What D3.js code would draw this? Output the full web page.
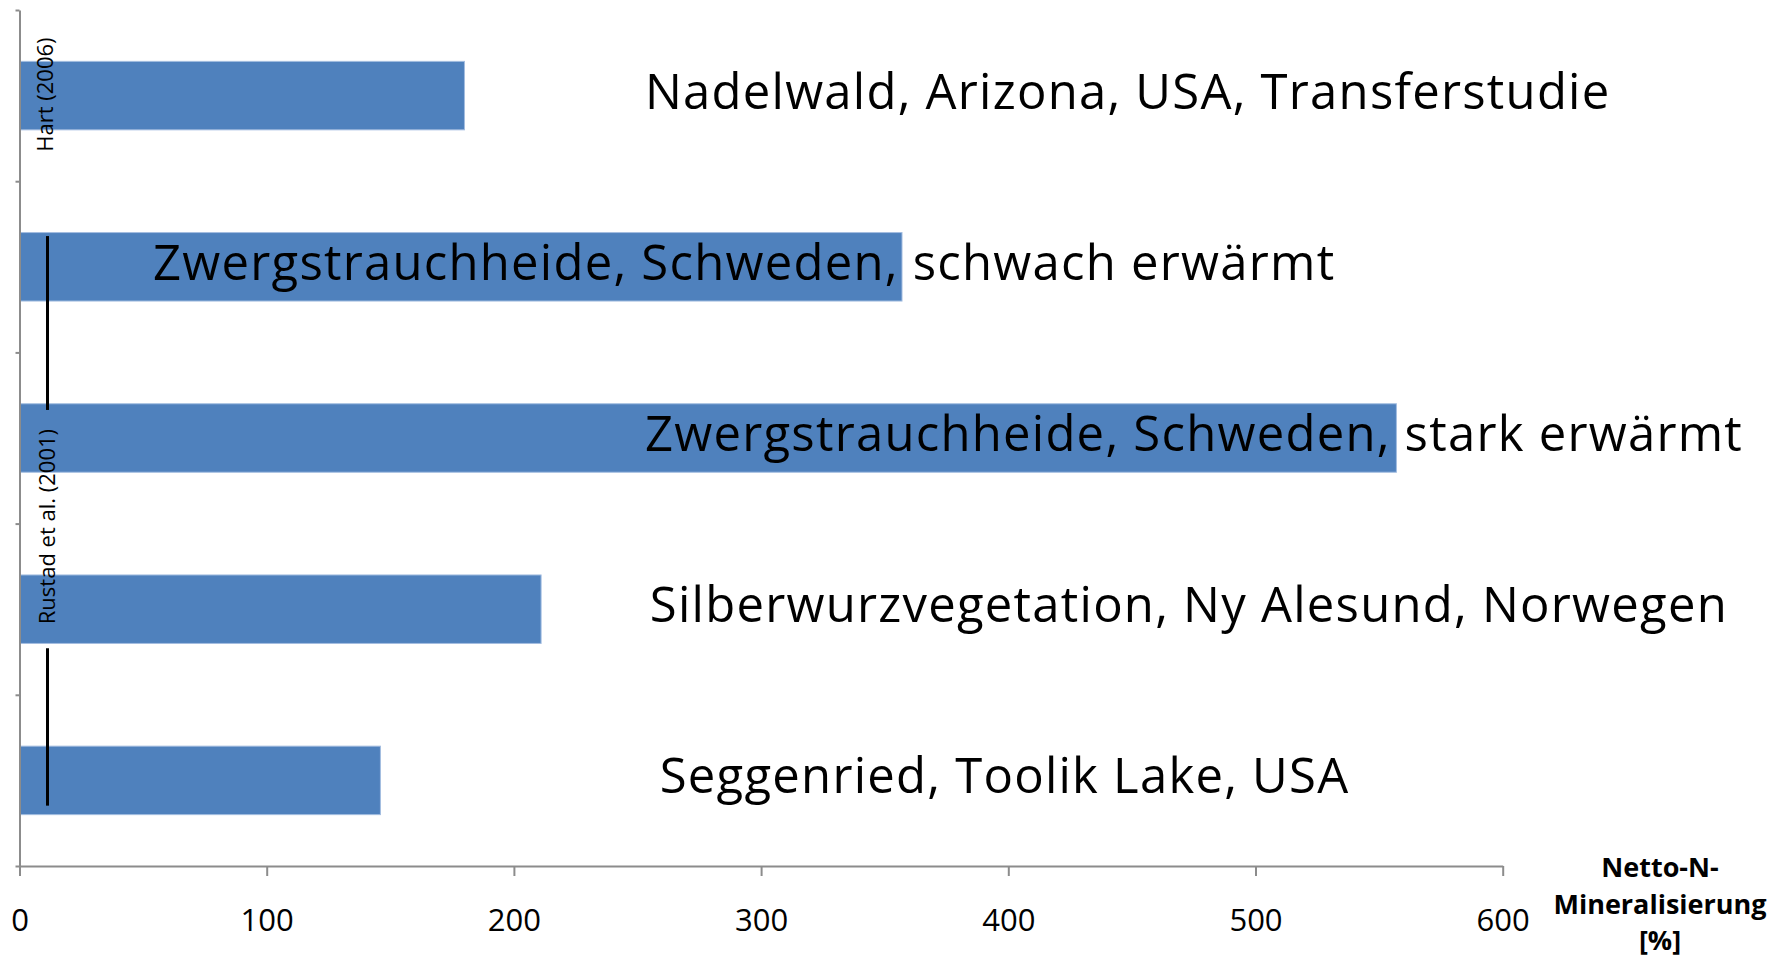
<!DOCTYPE html>
<html>
<head>
<meta charset="utf-8">
<script src="https://cdn.jsdelivr.net/npm/d3@7"></script>
<style>
    body { margin: 0; background: #fff; }
    text { font-family: "Open Sans", "Noto Sans", sans-serif; }
</style>
</head>
<body>
<div class="canvas"></div>
<script>
// data (top to bottom)
const categories = [
    'Nadelwald, Arizona, USA, Transferstudie',
    'Zwergstrauchheide, Schweden, schwach erwärmt',
    'Zwergstrauchheide, Schweden, stark erwärmt',
    'Silberwurzvegetation, Ny Alesund, Norwegen',
    'Seggenried, Toolik Lake, USA'
];
const values = [180, 357, 557, 211, 146];
// where each category label starts, in axis units
const labelAt = [253, 54, 253, 255, 259];
const xTicks = [0, 100, 200, 300, 400, 500, 600];
const axisTitle = ['Netto-N-', 'Mineralisierung', '[%]'];
const sources = ['Hart (2006)', 'Rustad et al. (2001)'];

const width = 1769;
const height = 957;

const svg = d3.select('.canvas')
    .append('svg')
    .attr('width', width)
    .attr('height', height);

// plot area
const plot = { left: 19.5, right: 1502.7, top: 10, bottom: 866 };

// scales
const x = d3.scaleLinear()
    .domain([0, 600])
    .range([plot.left, plot.right]);

const y = d3.scaleBand()
    .domain(categories)
    .range([plot.top, plot.bottom])
    .paddingInner(0.6)
    .paddingOuter(0.3);

// y boundary ticks live on a plain index scale
const yIdx = d3.scaleLinear()
    .domain([0, categories.length])
    .range([plot.top, plot.bottom]);

// bars
svg.append('g')
    .selectAll('rect')
    .data(categories)
    .enter()
    .append('rect')
    .attr('x', x(0))
    .attr('y', d => y(d))
    .attr('width', (d, i) => x(values[i]) - x(0))
    .attr('height', y.bandwidth())
    .attr('fill', '#4f81bd')
    .attr('stroke', '#a3bde0')
    .attr('stroke-width', 1);

// axes
const xAxisGroup = svg.append('g')
    .attr('transform', `translate(0, ${plot.bottom})`)
    .call(d3.axisBottom(x).tickValues(xTicks).tickSize(10).tickSizeOuter(0));

const yAxisGroup = svg.append('g')
    .attr('transform', `translate(${plot.left}, 0)`)
    .call(d3.axisLeft(yIdx).ticks(categories.length).tickSize(4).tickSizeOuter(0).tickFormat(''));

[xAxisGroup, yAxisGroup].forEach(g => {
    g.select('.domain').attr('stroke', '#8c8c8c').attr('stroke-width', 2);
    g.selectAll('.tick line').attr('stroke', '#8c8c8c').attr('stroke-width', 2);
});

xAxisGroup.selectAll('text')
    .attr('y', 65)
    .attr('dy', 0)
    .attr('font-size', 31)
    .attr('font-family', '"Open Sans", sans-serif')
    .attr('fill', '#000');

// category labels
svg.append('g')
    .selectAll('text')
    .data(categories)
    .enter()
    .append('text')
    .attr('x', (d, i) => x(labelAt[i]))
    .attr('y', d => y(d) + y.bandwidth() / 2 + 13)
    .attr('font-size', 49)
    .attr('letter-spacing', 1.25)
    .attr('fill', '#000')
    .text(d => d);

// axis title
svg.append('text')
    .attr('text-anchor', 'middle')
    .attr('font-size', 27)
    .attr('font-weight', 'bold')
    .selectAll('tspan')
    .data(axisTitle)
    .enter()
    .append('tspan')
    .attr('x', 1660)
    .attr('y', (d, i) => 877 + i * 36.5)
    .text(d => d);

// source labels, rotated
const hartY = y(categories[0]) + y.bandwidth() / 2 - 1;
svg.append('text')
    .attr('transform', `translate(53, ${hartY}) rotate(-90)`)
    .attr('text-anchor', 'middle')
    .attr('font-size', 22)
    .text(sources[0]);

const rustadY = (y(categories[2]) + y(categories[3])) / 2 + y.bandwidth() / 2 + 3;
const rustad = svg.append('text')
    .attr('transform', `translate(55, ${rustadY}) rotate(-90)`)
    .attr('text-anchor', 'middle')
    .attr('font-size', 22)
    .text(sources[1]);

// bracket line for Rustad et al., broken around the label
const half = rustad.node().getComputedTextLength() / 2;
const lineTop = y(categories[1]) + 3.5;
const lineBottom = y(categories[4]) + y.bandwidth() - 9;
const segs = [[lineTop, rustadY - half - 19], [rustadY + half + 24, lineBottom]];

svg.append('g')
    .selectAll('line')
    .data(segs)
    .enter()
    .append('line')
    .attr('x1', 47.5)
    .attr('x2', 47.5)
    .attr('y1', d => d[0])
    .attr('y2', d => d[1])
    .attr('stroke', '#000')
    .attr('stroke-width', 3);
</script>
</body>
</html>
